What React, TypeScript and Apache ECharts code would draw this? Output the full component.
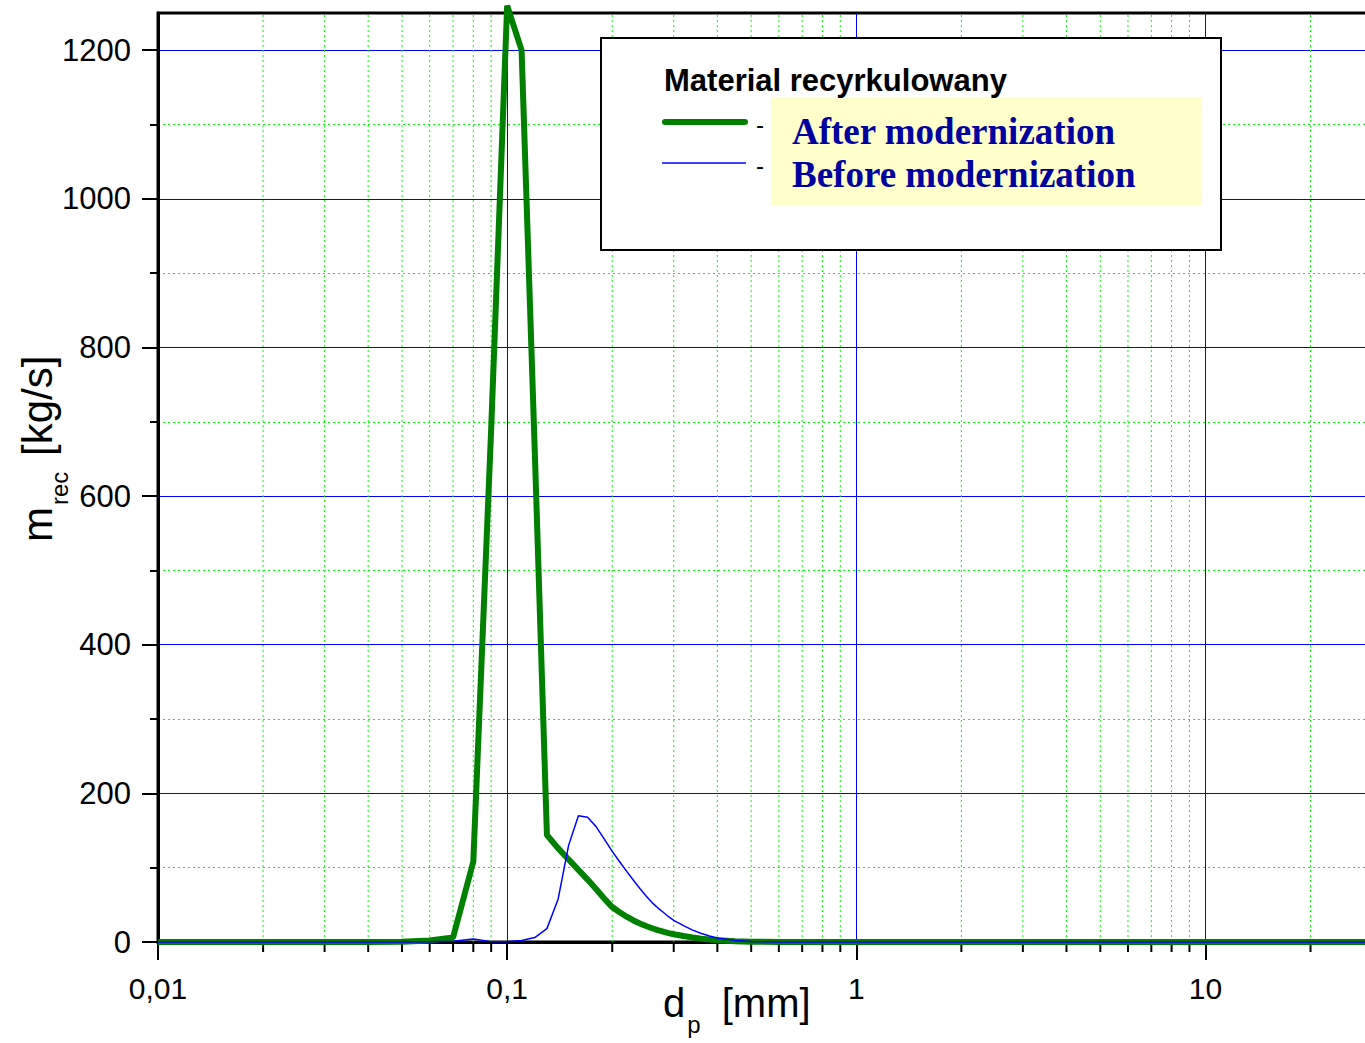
import React, { useEffect, useRef } from "react";
import * as echarts from "echarts";

// particle diameter d_p [mm]
const diameters = [
  0.01, 0.02, 0.03, 0.04, 0.05, 0.06, 0.07, 0.08, 0.09, 0.1, 0.11, 0.12, 0.13,
  0.14, 0.15, 0.16, 0.17, 0.18, 0.19, 0.2, 0.21, 0.22, 0.23, 0.24, 0.25, 0.26,
  0.27, 0.28, 0.29, 0.3, 0.32, 0.34, 0.36, 0.38, 0.4, 0.45, 0.5, 0.6, 0.8, 1, 2,
  5, 10, 30,
];
// m_rec [kg/s] after modernization (green, thick)
const afterModernization = [
  0, 0, 0, 0, 0.5, 2, 6, 108, 690, 1260, 1200, 660, 144, 126, 111, 97, 84, 71,
  58, 47, 40, 34, 29, 25, 21.5, 18.5, 16, 14, 12, 10.5, 8, 6, 4.5, 3.5, 2.5, 1,
  0.5, 0, 0, 0, 0, 0, 0, 0,
];
// m_rec [kg/s] before modernization (blue, thin)
const beforeModernization = [
  0, 0, 0, 0, 0, 0.5, 1, 4, 0.5, 0.5, 2, 6, 18, 58, 130, 170, 168, 155, 138,
  122, 108, 95, 83, 72, 62, 53, 46, 40, 34, 29, 22, 16, 11.5, 8, 5.5, 2, 0.8,
  0, 0, 0, 0, 0, 0, 0,
];
const minorXTicks = [
  0.02, 0.03, 0.04, 0.05, 0.06, 0.07, 0.08, 0.09, 0.2, 0.3, 0.4, 0.5, 0.6, 0.7,
  0.8, 0.9, 2, 3, 4, 5, 6, 7, 8, 9, 20,
];
const yTickValues = [0, 200, 400, 600, 800, 1000, 1200];
const legendTitle = "Material recyrkulowany";
const seriesNames = ["After modernization", "Before modernization"];

const SANS = "'Liberation Sans', Arial, sans-serif";
const SERIF = "'Liberation Serif', 'Times New Roman', serif";

export default function App() {
  const ref = useRef<HTMLDivElement>(null);
  useEffect(() => {
    const chart = echarts.init(ref.current!, null, { renderer: "svg" });
    const fmtX = (v: number) =>
      Number(Number(v).toPrecision(6)).toString().replace(".", ",");
    const fmtY = (v: number) => String(Math.round(v));
    chart.setOption({
      animation: false,
      backgroundColor: "#fff",
      grid: {
        left: 158,
        top: 13,
        right: 0,
        bottom: 101,
        show: true,
        borderColor: "#000",
        borderWidth: 3,
        backgroundColor: "#fff",
      },
      xAxis: {
        type: "log",
        logBase: 10,
        min: 0.01,
        max: 30,
        axisLine: { show: true, onZero: false, lineStyle: { color: "#000", width: 3 } },
        axisTick: { show: true, length: 18, lineStyle: { color: "#000", width: 2 } },
        axisLabel: {
          fontSize: 30,
          fontFamily: SANS,
          color: "#000",
          margin: 31,
          formatter: fmtX,
          showMaxLabel: false,
        },
        splitLine: { show: true, lineStyle: { color: "#0000ff", width: 1 } },
      },
      yAxis: {
        type: "value",
        min: 0,
        max: 1250,
        interval: 200,
        axisLine: { show: true, lineStyle: { color: "#000", width: 3 } },
        axisTick: {
          show: true,
          length: 16,
          lineStyle: { color: "#000", width: 2 },
          customValues: yTickValues,
        },
        minorTick: {
          show: true,
          splitNumber: 2,
          length: 8,
          lineStyle: { color: "#000", width: 2 },
        },
        axisLabel: {
          fontSize: 31,
          fontFamily: SANS,
          color: "#000",
          margin: 27,
          showMaxLabel: false,
          formatter: fmtY,
        },
        splitLine: { show: true, lineStyle: { color: "#0000ff", width: 1 } },
        minorSplitLine: {
          show: true,
          lineStyle: { color: "#00ff00", width: 1, type: [2, 3] },
        },
      },
      series: [
        {
          type: "custom",
          z: 1,
          silent: true,
          clip: false,
          data: minorXTicks.map((v) => [v, 0]),
          renderItem: (params: any, api: any) => {
            const x = api.value(0);
            const p0 = api.coord([x, 0]);
            const p1 = api.coord([x, 1250]);
            return {
              type: "group",
              children: [
                {
                  type: "line",
                  shape: { x1: p0[0], y1: p0[1], x2: p1[0], y2: p1[1] },
                  style: { stroke: "#00ff00", lineWidth: 1, lineDash: [2, 3] },
                },
                {
                  type: "line",
                  shape: { x1: p0[0], y1: p0[1], x2: p0[0], y2: p0[1] + 10 },
                  style: { stroke: "#000", lineWidth: 2 },
                },
              ],
            };
          },
        },
        {
          name: seriesNames[0],
          type: "line",
          z: 3,
          clip: false,
          symbol: "none",
          showSymbol: false,
          lineStyle: { color: "#008000", width: 6 },
          data: diameters.map((d, i) => [d, afterModernization[i]]),
        },
        {
          name: seriesNames[1],
          type: "line",
          z: 4,
          clip: false,
          symbol: "none",
          showSymbol: false,
          lineStyle: { color: "#0000ff", width: 1.5 },
          data: diameters.map((d, i) => [d, beforeModernization[i]]),
        },
      ],
      graphic: [
        {
          type: "text",
          x: 37,
          y: 542,
          rotation: Math.PI / 2,
          z: 100,
          style: {
            text: "{a|m}{b|rec}{a| [kg/s]}",
            align: "left",
            verticalAlign: "middle",
            fill: "#000",
            rich: {
              a: { fontSize: 42, fontFamily: SANS, lineHeight: 68, fill: "#000" },
              b: {
                fontSize: 24,
                fontFamily: SANS,
                lineHeight: 24,
                verticalAlign: "bottom",
                fill: "#000",
                padding: [0, 4, 0, 2],
              },
            },
          },
        },
        {
          type: "text",
          x: 663,
          y: 1003,
          z: 100,
          style: {
            text: "{a|d}{b|p}{a| [mm]}",
            align: "left",
            verticalAlign: "middle",
            fill: "#000",
            rich: {
              a: { fontSize: 40, fontFamily: SANS, lineHeight: 66, fill: "#000" },
              b: {
                fontSize: 24,
                fontFamily: SANS,
                lineHeight: 24,
                verticalAlign: "bottom",
                fill: "#000",
                padding: [0, 10, 0, 2],
              },
            },
          },
        },
        {
          type: "group",
          z: 100,
          children: [
            {
              type: "rect",
              z: 100,
              shape: { x: 601, y: 38, width: 620, height: 212 },
              style: { fill: "#fff", stroke: "#000", lineWidth: 2 },
            },
            {
              type: "rect",
              z: 101,
              shape: { x: 771, y: 97, width: 431, height: 108 },
              style: { fill: "#ffffcc" },
            },
            {
              type: "text",
              z: 102,
              x: 664,
              y: 80,
              style: {
                text: legendTitle,
                fontSize: 31,
                fontWeight: "bold",
                fontFamily: SANS,
                fill: "#000",
                align: "left",
                verticalAlign: "middle",
              },
            },
            {
              type: "line",
              z: 102,
              shape: { x1: 665, y1: 122, x2: 745, y2: 122 },
              style: { stroke: "#008000", lineWidth: 6, lineCap: "round" },
            },
            {
              type: "line",
              z: 102,
              shape: { x1: 662, y1: 163, x2: 746, y2: 163 },
              style: { stroke: "#0000ff", lineWidth: 1.5 },
            },
            {
              type: "text",
              z: 102,
              x: 756,
              y: 124,
              style: { text: "-", fontSize: 24, fontFamily: SANS, fill: "#000", align: "left", verticalAlign: "middle" },
            },
            {
              type: "text",
              z: 102,
              x: 756,
              y: 165,
              style: { text: "-", fontSize: 24, fontFamily: SANS, fill: "#000", align: "left", verticalAlign: "middle" },
            },
            {
              type: "text",
              z: 102,
              x: 792,
              y: 131,
              style: {
                text: seriesNames[0],
                fontSize: 37,
                fontWeight: "bold",
                fontFamily: SERIF,
                fill: "#0000a0",
                align: "left",
                verticalAlign: "middle",
              },
            },
            {
              type: "text",
              z: 102,
              x: 792,
              y: 174,
              style: {
                text: seriesNames[1],
                fontSize: 37,
                fontWeight: "bold",
                fontFamily: SERIF,
                fill: "#0000a0",
                align: "left",
                verticalAlign: "middle",
              },
            },
          ],
        },
      ],
    });
    return () => chart.dispose();
  }, []);
  return (
    <div
      ref={ref}
      style={{
        position: "fixed",
        left: 0,
        top: 0,
        width: 1372,
        height: 1043,
        background: "#fff",
      }}
    />
  );
}
